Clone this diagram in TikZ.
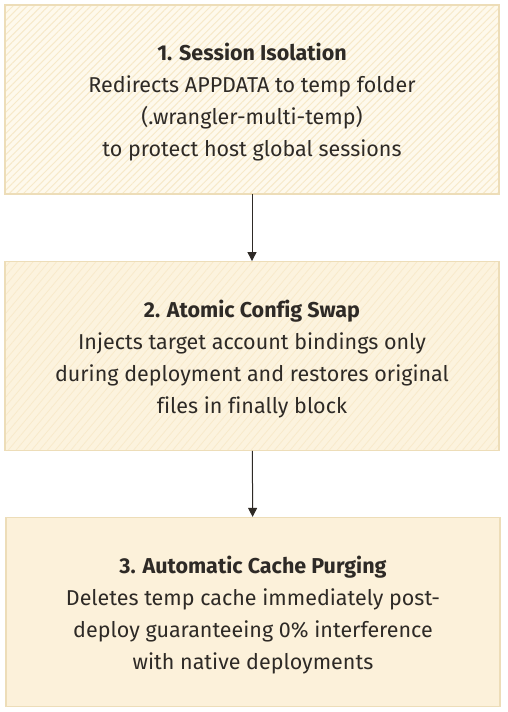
\documentclass[tikz,border=0pt]{standalone}
\usepackage{fontspec}
\setmainfont{Fira Sans}[Ligatures=NoCommon]
\usetikzlibrary{positioning,arrows.meta,patterns.meta}
\definecolor{boxedge}{HTML}{EDDDB8}
\definecolor{boxfillA}{HTML}{FEF9EC}
\definecolor{boxfillB}{HTML}{FCF3DE}
\definecolor{boxfillC}{HTML}{FCF1DA}
\definecolor{hatchA}{HTML}{F7E9C9}
\definecolor{hatchB}{HTML}{F8EACB}
\definecolor{txt}{HTML}{2E2A26}
\begin{document}
\begin{tikzpicture}[x=1pt,y=1pt,
  stagebox/.style={draw=boxedge,line width=1.2pt,minimum width=494pt,minimum height=189pt,
    align=center,text=txt,font=\fontsize{21.5}{32}\selectfont,inner sep=0pt},
  flowarrow/.style={draw=txt,line width=1pt,-{Triangle[length=9pt,width=9pt]}}]
 \useasboundingbox (0,0) rectangle (507,712);
 \node [stagebox,preaction={fill=boxfillA},pattern={Lines[angle=45,distance=5pt,line width=1pt]},pattern color=hatchA]
   (isolation) at (252,612.5) {};
 \node [stagebox,preaction={fill=boxfillB},pattern={Lines[angle=50,distance=6pt,line width=0.8pt]},pattern color=hatchB]
   (swap) at (252,356) {};
 \node [stagebox,fill=boxfillC] (purge) at (253,100) {};
 \node [stagebox,draw=none] at ([yshift=-3pt]isolation) {\textbf{1. Session Isolation}\\Redirects APPDATA to temp folder\\(.wrangler-multi-temp)\\to protect host global sessions};
 \node [stagebox,draw=none] at ([yshift=-3pt]swap) {\textbf{2. Atomic Config Swap}\\Injects target account bindings only\\during deployment and restores original\\files in finally block};
 \node [stagebox,draw=none] at ([yshift=-3pt]purge) {\textbf{3. Automatic Cache Purging}\\Deletes temp cache immediately post-\\deploy guaranteeing 0\% interference\\with native deployments};
 \draw [flowarrow] (isolation) -- (swap);
 \draw [flowarrow] (swap) -- (purge);
\end{tikzpicture}
\end{document}
